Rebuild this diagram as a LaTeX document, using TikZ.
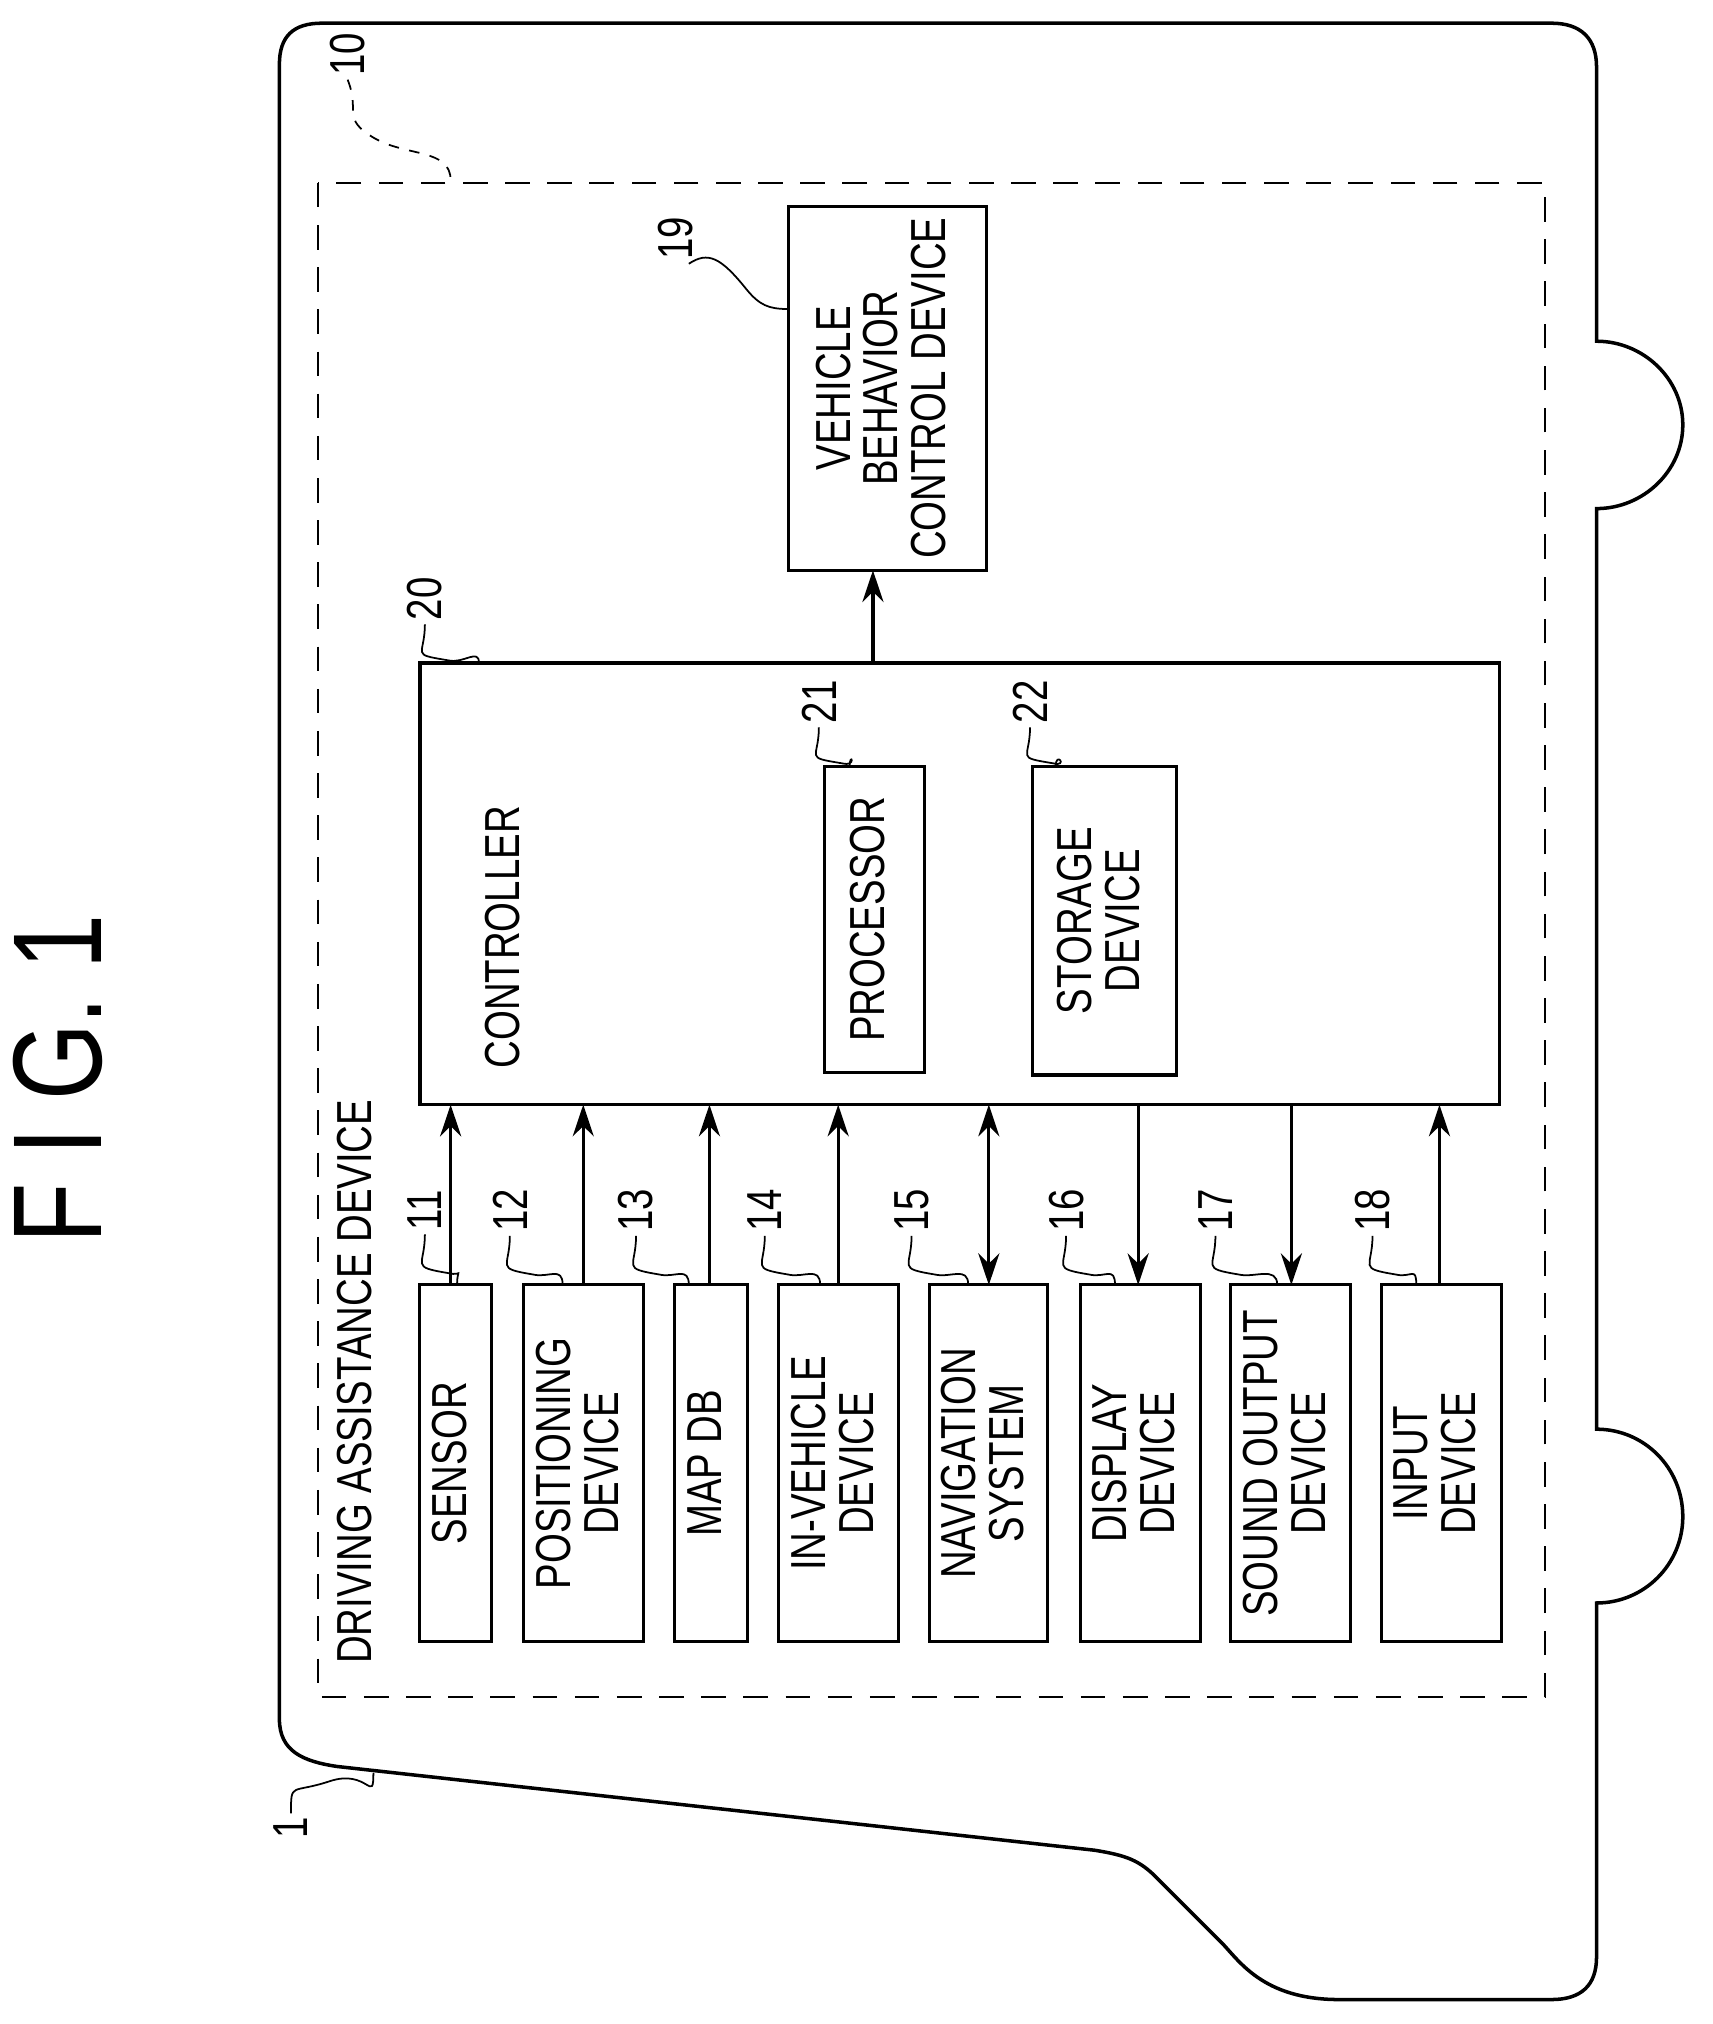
\documentclass[tikz,border=0pt]{standalone}
\usepackage{fontspec}
\setmainfont{Liberation Sans}[FakeStretch=0.78]
\usetikzlibrary{arrows.meta,positioning}

\newcommand{\vtext}[1]{\rotatebox{90}{\begin{tabular}{@{}c@{}}#1\end{tabular}}}

\begin{document}
\begin{tikzpicture}[
  x=0.012875cm, y=-0.012875cm,
  every node/.style={font=\fontsize{14}{12.5}\selectfont},
  block/.style={draw, line width=0.9pt, inner sep=0pt},
  refnum/.style={rotate=90, inner sep=1pt},
  leader/.style={line width=0.5pt},
  link/.style={line width=0.9pt, -{Stealth[length=9pt,width=6pt]}},
  both link/.style={line width=0.9pt, {Stealth[length=9pt,width=6pt]}-{Stealth[length=9pt,width=6pt]}}
]
\useasboundingbox (0,0) rectangle (1330,1572);

% title
\node[rotate=90, font=\fontsize{36}{36}\selectfont] (title) at (45,838) {F I G. 1};

% vehicle outline
\draw[line width=1pt] (217,1335) -- (217,50) .. controls (217,28) and (228,18) .. (250,18)
  -- (1205,18) .. controls (1228,18) and (1240,30) .. (1240,52) -- (1240,265)
  .. controls (1276,265) and (1307,294) .. (1307,330) .. controls (1307,366) and (1276,395) .. (1240,395)
  -- (1240,1110)
  .. controls (1277,1110) and (1307,1140) .. (1307,1178) .. controls (1307,1215) and (1277,1245) .. (1240,1245)
  -- (1240,1520) .. controls (1240,1542) and (1228,1553) .. (1205,1553)
  -- (1040,1553) .. controls (980,1553) and (962,1522) .. (948,1508)
  -- (898,1458) .. controls (885,1445) and (875,1441) .. (850,1437)
  -- (262,1372) .. controls (235,1368) and (217,1360) .. (217,1335) -- cycle;
\node[refnum] (l1) at (226,1420) {1};
\coordinate (p1) at (290,1377);
\draw[leader] (l1.east) .. controls +(0,-25) and +(-30,10) .. ++(30,-25) .. controls +(30,-10) and +(0,25) .. (p1);

% driving assistance device
\draw[line width=0.7pt, dash pattern=on 7pt off 5pt] (247,142) rectangle (1200,1318);
\node[rotate=90, anchor=west] (dad) at (275,1302) {DRIVING ASSISTANCE DEVICE};
\node[refnum] (l10) at (270,42) {10};
\coordinate (p10) at (350,140);
\draw[leader, dashed] (l10.west) .. controls +(10,25) and +(-25,-15) .. ++(20,45) .. controls +(25,15) and +(0,-25) .. (p10);

% controller
\node[block, minimum width=10.80cm, minimum height=4.42cm] (ctrl) at (745.5,686.5) {};
\node[rotate=90] (ctrltext) at (390,728) {CONTROLLER};
\node[block, minimum width=1.00cm, minimum height=3.06cm] (proc) at (679,714) {\vtext{PROCESSOR}};
\node[block, minimum width=1.44cm, minimum height=3.09cm] (stor) at (858,715) {\vtext{STORAGE\\DEVICE}};
\node[block, minimum width=1.98cm, minimum height=3.64cm] (vbc) at (689,301.5) {\vtext{VEHICLE\\BEHAVIOR\\CONTROL DEVICE}};
\draw[link] (vbc.south -| 678,0) ++(0,72) -- (678,443);

% peripheral devices
\foreach \name/\cx/\w/\txt in {
  sensor/354/0.72/SENSOR,
  pos/453.5/1.20/POSITIONING\\DEVICE,
  map/552.5/0.73/MAP DB,
  inveh/651.5/1.20/IN-VEHICLE\\DEVICE,
  nav/768/1.18/NAVIGATION\\SYSTEM,
  disp/885.5/1.20/DISPLAY\\DEVICE,
  sound/1002.5/1.20/SOUND OUTPUT\\DEVICE,
  input/1119.5/1.20/INPUT\\DEVICE} {
  \node[block, minimum width=\w cm, minimum height=3.57cm] (\name) at (\cx,1136.5) {\vtext{\txt}};
}
\foreach \name/\ax in {sensor/350, pos/453, map/551, inveh/651, input/1118}
  \draw[link] (\ax,998) -- (\ax,858);
\draw[both link] (768,998) -- (768,858);
\foreach \name/\ax in {disp/884, sound/1003}
  \draw[link] (\ax,858) -- (\ax,998);

% reference numerals
\foreach \num/\lx/\px in {11/330/355, 12/396/437, 13/494/535, 14/594/637, 15/708/752, 16/828/866, 17/944/992, 18/1066/1100} {
  \node[refnum] (l\num) at (\lx,940) {\num};
  \draw[leader] (l\num.west) .. controls +(0,25) and +(-30,-5) .. ++(18,30) .. controls +(12,3) and +(0,-15) .. (\px,998);
}
\foreach \num/\lx/\ly/\px/\py in {20/330/465/372/515, 21/636/545/660/595, 22/800/545/820/595} {
  \node[refnum] (l\num) at (\lx,\ly) {\num};
  \draw[leader] (l\num.west) .. controls +(0,25) and +(-30,-5) .. ++(18,28) .. controls +(12,3) and +(0,-12) .. (\px,\py);
}
\node[refnum] (l19) at (525,185) {19};
\draw[leader] (l19.west) ++(10,0) .. controls +(15,-10) and +(-20,-25) .. (580,225) .. controls +(10,12) and +(-15,0) .. (612,240);
\end{tikzpicture}
\end{document}
